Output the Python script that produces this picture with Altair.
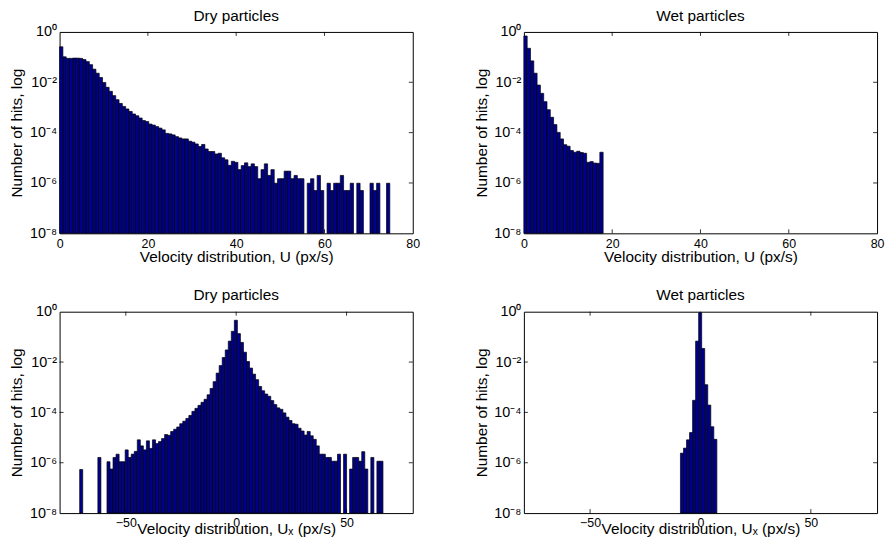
import altair as alt
import numpy as np
import pandas as pd

# ---------------- data (log10 of fraction of hits per bin; None = empty bin) -------------
U_EDGE_LO, U_EDGE_HI = 0.0, 74.8          # 100 bins shared by both U histograms
UX_EDGE_LO, UX_EDGE_HI = -70.9, 66.5      # 100 bins shared by both Ux histograms

dry_u_log = [
    -0.59, -0.99, -1.05, -1.05, -1.04, -1.04, -1.05, -1.10, -1.18, -1.30,
    -1.48, -1.64, -1.81, -2.01, -2.20, -2.36, -2.53, -2.69, -2.84, -2.96,
    -3.06, -3.16, -3.26, -3.33, -3.42, -3.52, -3.56, -3.66, -3.70, -3.76,
    -3.82, -3.89, -4.03, -4.05, -4.09, -4.16, -4.21, -4.25, -4.25, -4.34,
    -4.38, -4.45, -4.55, -4.47, -4.65, -4.75, -4.75, -4.85, -4.82, -5.00,
    -5.08, -5.30, -5.14, -5.18, -5.47, -5.31, -5.20, -5.35, -5.24, -5.35,
    -5.83, -5.47, -5.24, -5.70, -5.47, -6.01, -5.83, -5.83, -5.53, -5.53,
    -5.83, -5.70, -5.83, -5.83, None, -6.01, -5.83, -6.30, -5.70, -6.30,
    None, -6.01, -6.30, -6.01, -6.01, -5.70, -6.30, -6.30, -6.01, None,
    -6.01, -6.30, None, None, -6.01, -6.30, -6.01, None, None, -6.01,
]

wet_u_first_bin = 0
wet_u_log = [
    -0.16, -0.65, -1.15, -1.64, -2.11, -2.44, -2.77, -3.09, -3.39, -3.68,
    -3.99, -4.25, -4.48, -4.54, -4.71, -4.78, -4.74, -4.79, -4.82, -5.18,
    -5.15, -5.21, -5.22, -4.78,
]

dry_ux_log = [
    -6.27, None, None, None, None, None, -5.79, None, None, -5.96,
    -6.25, -5.79, -5.66, -5.96, -5.96, -5.49, -5.79, -5.66, -5.55, -5.09,
    -5.33, -5.49, -5.13, -5.43, -5.09, -5.24, -5.16, -5.04, -4.88, -4.91,
    -4.76, -4.67, -4.58, -4.45, -4.35, -4.24, -4.12, -3.96, -3.84, -3.72,
    -3.60, -3.48, -3.30, -3.05, -2.78, -2.44, -2.14, -1.82, -1.52, -1.17,
    -0.78, -0.34, -0.87, -1.22, -1.61, -1.98, -2.24, -2.48, -2.70, -2.97,
    -3.14, -3.27, -3.36, -3.53, -3.69, -3.82, -3.88, -4.02, -4.19, -4.32,
    -4.45, -4.47, -4.63, -4.74, -4.90, -4.76, -4.93, -5.07, -5.33, -5.66,
    -5.66, -5.79, -5.79, -5.94, -5.94, -5.66, None, -5.66, None, -6.25,
    -5.79, -5.79, -5.94, -5.56, -6.25, None, -5.79, None, -5.94, -5.94,
]

wet_ux_first_bin = 45
wet_ux_log = [
    -5.62, -5.42, -5.09, -4.80, -3.52, -1.17, -0.04, -1.46, -2.90, -3.71,
    -4.57, -5.07,
]

u_ticks = [0, 20, 40, 60, 80]
ux_ticks = [-50, 0, 50]
y_ticks = [1e-8, 1e-6, 1e-4, 1e-2, 1.0]

# ---------------- build tables ----------------
u_edges = np.linspace(U_EDGE_LO, U_EDGE_HI, 101)
ux_edges = np.linspace(UX_EDGE_LO, UX_EDGE_HI, 101)


def table(logs, edges, first=0):
    rows = []
    for k, v in enumerate(logs):
        if v is None:
            continue
        i = first + k
        rows.append({"lo": edges[i], "hi": edges[i + 1], "frac": 10.0 ** v})
    return pd.DataFrame(rows)


W, H = 356, 203
FONT = "Liberation Sans"
FILL = "#00008F"

ylab = ("round(log(datum.value)/LN10) == 0 ? '10\u2070' : "
        "round(log(datum.value)/LN10) == -2 ? '10\u207b\u00b2' : "
        "round(log(datum.value)/LN10) == -4 ? '10\u207b\u2074' : "
        "round(log(datum.value)/LN10) == -6 ? '10\u207b\u2076' : '10\u207b\u2078'")


def panel(df, xdom, xticks, title, xtitle, title_y):
    xs = alt.Scale(domain=xdom, nice=False, zero=False)
    ys = alt.Scale(type="log", domain=[1e-8, 1], nice=False)
    xaxis = alt.Axis(values=xticks, grid=False, ticks=False, domain=False,
                     labelFont=FONT, labelFontSize=12.5, labelColor="black",
                     labelPadding=4, labelFlush=False, labelOverlap=False,
                     title=xtitle, titleFont=FONT, titleFontSize=15.5,
                     titleFontWeight="normal", titleColor="black",
                     titleBaseline="alphabetic", titleY=title_y, titleX=W / 2)
    yaxis = alt.Axis(values=y_ticks, grid=False, ticks=False, domain=False,
                     labelExpr=ylab, labelFont=FONT, labelFontSize=14.5,
                     labelColor="black", labelPadding=3,
                     title="Number of hits, log", titleFont=FONT,
                     titleFontSize=15.5, titleFontWeight="normal",
                     titleColor="black", titleBaseline="middle",
                     titleX=-43, titleY=H / 2, titleAngle=-90)
    bars = alt.Chart(df).mark_rect(fill=FILL, stroke="black", strokeWidth=0.7).encode(
        x=alt.X("lo:Q", scale=xs, axis=xaxis),
        x2="hi:Q",
        y=alt.Y("frac:Q", scale=ys, axis=yaxis),
        y2=alt.datum(1e-8),
    )
    inner_x = [t for t in xticks if xdom[0] < t < xdom[1]]
    tx = pd.DataFrame({"t": inner_x})
    ty = pd.DataFrame({"t": y_ticks[1:-1]})
    tick_top = alt.Chart(tx).mark_rule(color="black", strokeWidth=0.8).encode(
        x=alt.X("t:Q", scale=xs, axis=xaxis), y=alt.value(0), y2=alt.value(4))
    tick_bot = alt.Chart(tx).mark_rule(color="black", strokeWidth=0.8).encode(
        x=alt.X("t:Q", scale=xs, axis=xaxis), y=alt.value(H), y2=alt.value(H - 4))
    tick_l = alt.Chart(ty).mark_rule(color="black", strokeWidth=0.8).encode(
        y=alt.Y("t:Q", scale=ys, axis=yaxis), x=alt.value(0), x2=alt.value(4))
    tick_r = alt.Chart(ty).mark_rule(color="black", strokeWidth=0.8).encode(
        y=alt.Y("t:Q", scale=ys, axis=yaxis), x=alt.value(W - 4), x2=alt.value(W))
    return alt.layer(tick_top, tick_bot, tick_l, tick_r, bars).properties(
        width=W, height=H,
        title=alt.Title(title, font=FONT, fontSize=15.5, fontWeight="normal",
                        color="black", offset=0),
    )


p1 = panel(table(dry_u_log, u_edges), [0, 80], u_ticks, "Dry particles",
           "Velocity distribution, U (px/s)", 28)
p2 = panel(table(wet_u_log, u_edges, wet_u_first_bin), [0, 80], u_ticks,
           "Wet particles", "Velocity distribution, U (px/s)", 28)
p3 = panel(table(dry_ux_log, ux_edges), [-80, 80], ux_ticks, "Dry particles",
           "Velocity distribution, U\u2093 (px/s)", 21)
p4 = panel(table(wet_ux_log, ux_edges, wet_ux_first_bin), [-80, 80], ux_ticks,
           "Wet particles", "Velocity distribution, U\u2093 (px/s)", 21)

chart = alt.concat(p1, p2, p3, p4, columns=2,
                   spacing={"row": 79, "column": 112}, bounds="flush").properties(
    padding={"left": 1, "top": -2, "right": 0, "bottom": 0}
).configure(
    view={"stroke": "black", "strokeWidth": 1},
    title={"font": FONT, "fontSize": 15.5, "fontWeight": "normal", "color": "black"},
    style={"group-title": {"fontSize": 15.5, "font": FONT,
                           "fontWeight": "normal", "fill": "black"}},
)

chart.save("out.html", embed_options={"renderer": "svg", "actions": False})
